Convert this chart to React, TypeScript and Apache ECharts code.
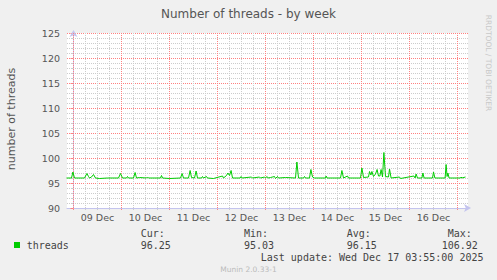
import React, { useEffect, useRef } from 'react';
import * as echarts from 'echarts';

// time in hours relative to 09 Dec 00:00
const hours = [
  -3.5, -1.0, -0.3, 0.5, 5.5, 6.7, 7.5, 8.0, 9.0, 10.0, 11.0, 13.0, 17.0,
  22.5, 23.5, 24.5, 26.5, 27.0, 27.5, 30.0, 30.8, 31.5, 33.0, 36.5, 37.0, 37.5,
  43.5, 44.0, 44.5, 48.0, 53.5, 54.3, 55.0, 57.5, 58.3, 59.0, 60.5, 61.3, 62.0,
  64.0, 64.5, 65.0, 66.5, 67.0, 70.0, 74.5, 75.0, 76.5, 77.2, 78.0, 78.8, 79.5,
  83.3, 83.8, 84.3, 89.0, 89.5, 93.0, 93.5, 95.5, 96.0, 96.8, 97.3, 98.5, 100.5,
  101.0, 102.0, 102.5, 106.0, 111.0, 111.7, 112.5, 115.0, 115.5, 116.0, 118.0,
  118.7, 119.5, 120.5, 126.0, 126.3, 126.8, 133.5, 134.2, 135.0, 137.0, 137.5,
  143.5, 144.2, 145.0, 147.5, 148.0, 148.7, 149.2, 150.0, 151.0, 151.8, 152.5,
  153.2, 153.8, 154.5, 155.2, 156.0, 157.5, 158.0, 158.8, 163.0, 163.5, 170.2,
  170.8, 171.3, 172.0, 174.2, 174.7, 175.3, 179.5, 180.0, 180.7, 185.8, 186.3,
  186.8, 187.2, 187.8, 193.5, 193.8, 194.2, 196.0,
];
const threads = [
  96.0, 96.0, 97.2, 96.0, 96.0, 96.9, 96.3, 96.0, 96.2, 96.7, 96.0, 95.9, 96.0,
  96.0, 96.9, 96.0, 96.0, 96.3, 96.0, 96.0, 97.1, 96.0, 96.1, 96.0, 96.2, 96.0,
  96.0, 96.5, 96.0, 95.9, 96.0, 96.9, 96.0, 96.0, 97.5, 96.1, 96.0, 97.4, 96.0,
  96.0, 96.3, 96.0, 96.3, 96.0, 95.9, 96.4, 96.0, 96.5, 97.0, 96.5, 97.5, 96.0,
  96.0, 96.3, 96.0, 96.2, 96.0, 96.2, 96.0, 96.2, 96.0, 96.3, 96.0, 96.1, 96.3,
  95.9, 96.3, 96.0, 96.1, 96.0, 99.2, 96.0, 96.0, 96.3, 96.0, 96.0,
  97.7, 96.2, 96.0, 96.0, 96.4, 96.0, 96.0, 97.5, 96.0, 96.4, 96.0,
  96.0, 98.0, 96.1, 96.2, 97.3, 96.6, 97.3, 96.3, 96.8, 97.7, 96.4,
  96.4, 97.7, 96.2, 101.1, 96.3, 96.2, 97.8, 96.0, 96.2, 95.9, 96.4,
  96.0, 96.8, 96.0, 96.0, 97.0, 96.0, 96.0, 97.2, 96.0, 96.0, 98.7,
  96.3, 97.0, 96.0, 96.0, 96.2, 96.0, 96.2,
];

const dayLabels = ['09 Dec', '10 Dec', '11 Dec', '12 Dec', '13 Dec', '14 Dec', '15 Dec', '16 Dec'];
const dayLabelHours = [12, 36, 60, 84, 108, 132, 156, 180];
const dayBoundaryHours = [0, 24, 48, 72, 96, 120, 144, 168, 192];
const sixHourHours = [
  6, 12, 18, 30, 36, 42, 54, 60, 66, 78, 84, 90, 102, 108, 114, 126, 132, 138,
  150, 156, 162, 174, 180, 186,
];
const xRange = [-3.25, 197.25];
const yRange = [90, 125];
const yStep = 5;

const titleText = 'Number of threads - by week';
const yAxisTitle = 'number of threads';
const sideText = 'RRDTOOL / TOBI OETIKER';
const seriesName = 'threads';
const legendHeaders = ['Cur:', 'Min:', 'Avg:', 'Max:'];
const legendValues = ['96.25', '95.03', '96.15', '106.92'];
const lastUpdate = 'Last update: Wed Dec 17 03:55:00 2025';
const footer = 'Munin 2.0.33-1';

const RED = '#ff8080';
const GRAY = '#cccccc';
const AXIS = '#c4c4ee';
const GREEN = '#00cc00';

export default function App() {
  const ref = useRef<HTMLDivElement>(null);
  useEffect(() => {
    document.body.style.margin = '0';
    const chart = echarts.init(ref.current!, null, { renderer: 'svg' });
    const data = hours.map((h, i) => [h, threads[i]]);
    const headerX = [140.7, 244, 346.7, 447.7];
    const valueX = [140.7, 244, 346.7, 441.7];
    const mono = '"DejaVu Sans Mono", monospace';
    const sans = '"DejaVu Sans", sans-serif';

    const graphic: any[] = [
      {
        type: 'text', x: 248.5, y: 13.5,
        style: { text: titleText, fill: '#555', font: `12px ${sans}`, textAlign: 'center', textVerticalAlign: 'middle' },
      },
      {
        type: 'text', x: 11, y: 119, rotation: Math.PI / 2,
        style: { text: yAxisTitle, fill: '#555', font: `11px ${sans}`, textAlign: 'center', textVerticalAlign: 'middle' },
      },
      {
        type: 'text', x: 488.5, y: 63, rotation: -Math.PI / 2,
        style: { text: sideText, fill: '#c8c8c8', font: `7.5px ${sans}`, textAlign: 'center', textVerticalAlign: 'middle' },
      },
      { type: 'rect', shape: { x: 14, y: 242, width: 6, height: 6 }, style: { fill: GREEN } },
      {
        type: 'text', x: 26.7, y: 245,
        style: { text: seriesName, fill: '#444', font: `10px ${mono}`, textAlign: 'left', textVerticalAlign: 'middle' },
      },
      {
        type: 'text', x: 483.5, y: 257.5,
        style: { text: lastUpdate, fill: '#444', font: `10px ${mono}`, textAlign: 'right', textVerticalAlign: 'middle' },
      },
      {
        type: 'text', x: 248.5, y: 269.5,
        style: { text: footer, fill: '#bbbbbb', font: `7.5px ${sans}`, textAlign: 'center', textVerticalAlign: 'middle' },
      },
    ];
    legendHeaders.forEach((t, i) => {
      graphic.push({
        type: 'text', x: headerX[i], y: 233.3,
        style: { text: t, fill: '#444', font: `10px ${mono}`, textAlign: 'left', textVerticalAlign: 'middle' },
      });
      graphic.push({
        type: 'text', x: valueX[i], y: 245,
        style: { text: legendValues[i], fill: '#444', font: `10px ${mono}`, textAlign: 'left', textVerticalAlign: 'middle' },
      });
    });

    const vLines = (vals: number[], color: string, z: number) => ({
      type: 'custom', z, silent: true,
      data: vals.map((h) => [h]),
      encode: { x: 0 },
      renderItem: (_params: any, api: any) => {
        const v = api.value(0);
        const bottom = api.coord([v, yRange[0]]);
        const top = api.coord([v, yRange[1]]);
        return {
          type: 'line',
          shape: { x1: bottom[0], y1: top[1], x2: bottom[0], y2: bottom[1] + 3 },
          style: { stroke: color, lineWidth: 1, lineDash: [1, 1], fill: null },
        };
      },
    });

    chart.setOption({
      animation: false,
      backgroundColor: '#f0f0f0',
      grid: { left: 67, top: 33, width: 401, height: 175, show: true, backgroundColor: '#ffffff', borderWidth: 0 },
      xAxis: {
        type: 'value', min: xRange[0], max: xRange[1],
        axisLine: { show: true, lineStyle: { color: AXIS, width: 1 }, symbol: ['none', 'arrow'], symbolSize: [6, 7], symbolOffset: [0, 3] },
        axisTick: { show: false },
        minorTick: { show: false },
        axisLabel: {
          customValues: dayLabelHours,
          formatter: (v: number) => dayLabels[dayLabelHours.indexOf(v)] ?? '',
          fontSize: 9.5, color: '#555', fontFamily: 'DejaVu Sans', margin: 4,
        },
        splitLine: { show: false },
        minorSplitLine: { show: false },
      },
      yAxis: {
        type: 'value', min: yRange[0], max: yRange[1], interval: yStep,
        axisLine: { show: true, lineStyle: { color: AXIS, width: 1 }, symbol: ['none', 'arrow'], symbolSize: [6, 7], symbolOffset: [0, 3] },
        axisTick: { show: true, length: 3, lineStyle: { color: RED } },
        minorTick: { show: true, splitNumber: 5, length: 2, lineStyle: { color: GRAY } },
        axisLabel: { fontSize: 9.5, color: '#555', fontFamily: 'DejaVu Sans', margin: 7 },
        splitLine: { show: true, lineStyle: { color: RED, type: [1, 1], width: 1 } },
        minorSplitLine: { show: true, lineStyle: { color: GRAY, type: [1, 1], width: 1 } },
      },
      series: [
        vLines(sixHourHours, GRAY, 1),
        vLines(dayBoundaryHours, RED, 2),
        {
          type: 'line', name: seriesName, data, z: 5, showSymbol: false, symbol: 'none',
          lineStyle: { color: GREEN, width: 1 },
        },
      ],
      graphic,
    });
    return () => chart.dispose();
  }, []);
  return <div ref={ref} style={{ position: 'fixed', left: 0, top: 0, width: 497, height: 280 }} />;
}
